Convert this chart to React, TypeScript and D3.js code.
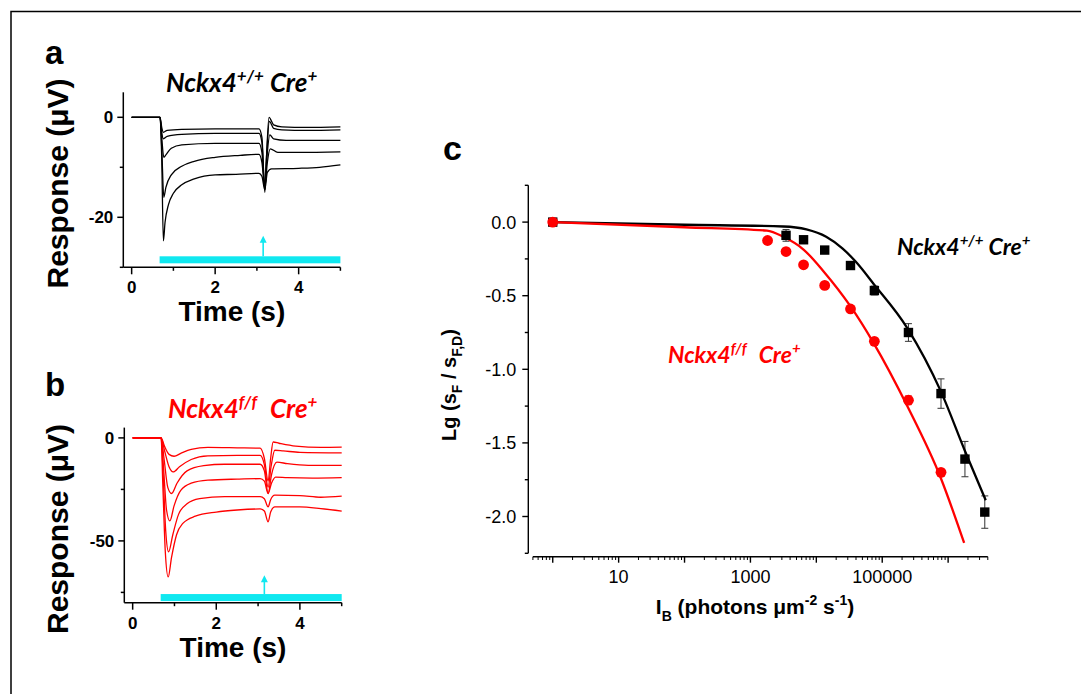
import React from "react";
import * as d3 from "d3";

// ---------- Panel a / b data (time s, response µV) ----------
const timeTicks = [0, 2, 4];
const timeMinor = [1, 3, 5];
const yTicksA = [0, -20];
const yMinorA = [-10, -30];
const yTicksB = [0, -50];
const yMinorB = [-25, -75];

const stimStart = 0.67;
const stimEnd = 5;
const flashTime = 3.15;
const barLevelA = -28.5;
const arrowTopA = -23.7;
const barLevelB = -77.5;
const arrowTopB = -66.7;

const traceA1: [number, number][] = [[0,0],[0.68,0],[0.72,-2],[0.76,-3],[0.85,-2.6],[1.2,-2.4],[2,-2.3],[3.05,-2.3],[3.12,-4],[3.19,-15],[3.23,-8],[3.29,0],[3.4,-1.5],[3.6,-1.9],[4.2,-2],[5,-1.9]];
const traceA2: [number, number][] = [[0,0],[0.68,0],[0.72,-3],[0.76,-4.3],[0.85,-3.8],[1.2,-3.4],[2,-3.2],[3.05,-3.2],[3.12,-5],[3.19,-14.5],[3.23,-8],[3.3,-0.8],[3.4,-2.2],[3.6,-2.5],[4.2,-2.6],[5,-2.5]];
const traceA3: [number, number][] = [[0,0],[0.68,0],[0.72,-4],[0.77,-8],[0.82,-7.5],[0.95,-6.2],[1.2,-5.5],[2,-5.2],[3.05,-5.2],[3.12,-7],[3.19,-14],[3.24,-8],[3.31,-3.5],[3.4,-4.3],[3.7,-4.6],[5,-4.6]];
const traceA4: [number, number][] = [[0,0],[0.68,0],[0.72,-6],[0.77,-16],[0.82,-14],[0.95,-11.5],[1.2,-9.8],[1.5,-8.8],[2,-8],[2.6,-7.6],[3.05,-7.4],[3.12,-9],[3.19,-14],[3.25,-9],[3.32,-6.3],[3.5,-7],[4,-7],[5,-6.9]];
const traceA5: [number, number][] = [[0,0],[0.68,0],[0.72,-8],[0.76,-24.7],[0.8,-21],[0.88,-17.5],[1.0,-15.2],[1.2,-13.5],[1.5,-12.3],[2,-11.5],[2.5,-11.4],[3.05,-11.2],[3.12,-11.8],[3.19,-14.5],[3.25,-11],[3.35,-10.3],[4,-10.2],[4.5,-10],[5,-9.5]];
const tracesA = [traceA1, traceA2, traceA3, traceA4, traceA5];

const traceB1: [number, number][] = [[0,0],[0.68,0],[0.76,-4],[0.87,-8],[0.99,-8.9],[1.15,-7.5],[1.4,-5.6],[1.8,-4.6],[2.5,-4.8],[3.05,-5],[3.15,-10],[3.24,-21],[3.3,-10],[3.36,-2],[3.5,-2.6],[3.9,-4],[4.5,-4.6],[5,-4.5]];
const traceB2: [number, number][] = [[0,0],[0.68,0],[0.76,-6],[0.87,-14],[0.97,-16.5],[1.12,-14],[1.4,-10.5],[1.8,-8.7],[2.5,-8.5],[3.05,-8.5],[3.15,-13],[3.24,-24],[3.31,-14],[3.4,-6],[3.6,-6.3],[4,-7],[5,-7.3]];
const traceB3: [number, number][] = [[0,0],[0.68,0],[0.75,-10],[0.84,-24],[0.93,-27],[1.06,-22],[1.3,-16],[1.7,-13.5],[2.2,-12.8],[3.05,-12.8],[3.15,-16],[3.24,-27],[3.32,-18],[3.45,-11.8],[3.7,-12.5],[4.2,-13.3],[5,-13.3]];
const traceB4: [number, number][] = [[0,0],[0.68,0],[0.74,-15],[0.81,-35],[0.89,-40.3],[0.99,-33],[1.15,-25.5],[1.4,-22],[1.8,-20.5],[2.5,-20],[3.05,-19.8],[3.15,-21],[3.24,-27],[3.32,-22],[3.42,-19],[3.7,-19.3],[4.3,-19.5],[5,-19.3]];
const traceB5: [number, number][] = [[0,0],[0.68,0],[0.73,-18],[0.79,-45],[0.86,-55.3],[0.96,-47],[1.1,-37],[1.3,-32],[1.6,-29.5],[2.2,-28.5],[3.05,-28.5],[3.15,-29.5],[3.24,-33.5],[3.3,-30],[3.4,-27.8],[4,-28],[4.5,-28.8],[5,-28.3]];
const traceB6: [number, number][] = [[0,0],[0.68,0],[0.72,-22],[0.78,-55],[0.85,-67.5],[0.93,-58],[1.05,-47],[1.2,-41.5],[1.5,-38],[2,-36],[2.5,-35],[3.05,-34.5],[3.15,-35.5],[3.24,-40.8],[3.3,-36],[3.4,-33.5],[4,-33.5],[4.5,-34.3],[5,-35.5]];
const tracesB = [traceB1, traceB2, traceB3, traceB4, traceB5, traceB6];

// ---------- Panel c data ----------
const intensityWT = [1, 3470, 6400, 13400, 33000, 76000, 250000, 780000, 1800000, 3600000];
const lgWT = [0, -0.09, -0.12, -0.19, -0.295, -0.465, -0.75, -1.165, -1.61, -1.97];
const errWT = [0, 0.04, 0.02, 0.02, 0.02, 0.03, 0.06, 0.1, 0.12, 0.11];
const intensityKO = [1, 1820, 3470, 6400, 13400, 33000, 76000, 250000, 780000];
const lgKO = [0, -0.125, -0.2, -0.29, -0.43, -0.59, -0.81, -1.21, -1.7];
const errKO = [0, 0.01, 0.01, 0.01, 0.01, 0.01, 0.01, 0.03, 0.01];
const fitWT_I = [1, 100, 3160, 7080, 14100, 25100, 39800, 74100, 240000, 776000, 1820000, 3720000];
const fitWT_lg = [0, -0.018, -0.03, -0.05, -0.1, -0.18, -0.27, -0.42, -0.72, -1.15, -1.56, -1.89];
const fitKO_I = [1, 100, 1780, 3160, 6460, 12900, 33100, 74100, 240000, 776000, 1750000];
const fitKO_lg = [0, -0.035, -0.058, -0.1, -0.188, -0.335, -0.573, -0.822, -1.25, -1.74, -2.18];
const xLabelsC = [10, 1000, 100000];
const xMajorC = [1, 10, 100, 1000, 10000, 100000, 1000000];
const yTicksC = [0, -0.5, -1, -1.5, -2];
const yMinorC = [0.25, -0.25, -0.75, -1.25, -1.75, -2.25];

const SANS = "'Liberation Sans', Arial, sans-serif";
const GENO = "Lato, 'Liberation Sans', sans-serif";
const CYAN = "#10e8f0";

type Pt = [number, number];

function TracePanel(props: {
  x0: number; x1: number; y0: number; y1: number; yDomain: [number, number];
  traces: Pt[][]; color: string; yTicks: number[]; yMinor: number[];
  barLevel: number; arrowTop: number; yLabelCenter: number;
}) {
  const { x0, x1, y0, y1, yDomain, traces, color, yTicks, yMinor, barLevel, arrowTop, yLabelCenter } = props;
  const x = d3.scaleLinear().domain([-0.2, 5]).range([x0, x1]);
  const y = d3.scaleLinear().domain(yDomain).range([y0, y1]);
  const line = d3.line<Pt>().x(d => x(d[0])).y(d => y(d[1])).curve(d3.curveMonotoneX);
  const fx = x(flashTime);
  const barY = y(barLevel);
  const topY = y(arrowTop);
  return (
    <g>
      {traces.map((t, i) => (
        <path key={i} d={line(t) || ""} fill="none" stroke={color} strokeWidth={1.3} strokeLinejoin="round" />
      ))}
      <rect x={x(stimStart)} y={barY - 3.5} width={x(stimEnd) - x(stimStart)} height={7} fill={CYAN} />
      <line x1={fx} x2={fx} y1={barY - 3.5} y2={topY + 6} stroke={CYAN} strokeWidth={1.6} />
      <path d={`M${fx},${topY} L${fx - 3.5},${topY + 7} L${fx + 3.5},${topY + 7} Z`} fill={CYAN} />
      <line x1={x0} x2={x0} y1={y1} y2={y0} stroke="#000" strokeWidth={1.5} />
      <line x1={x0} x2={x1} y1={y0} y2={y0} stroke="#000" strokeWidth={1.5} />
      {yTicks.map(v => (
        <g key={v}>
          <line x1={x0 - 6} x2={x0} y1={y(v)} y2={y(v)} stroke="#000" strokeWidth={1.5} />
          <text x={x0 - 10} y={y(v) + 6} textAnchor="end" fontFamily={SANS} fontWeight="bold" fontSize={17}>{v}</text>
        </g>
      ))}
      {yMinor.map(v => (
        <line key={v} x1={x0 - 3.5} x2={x0} y1={y(v)} y2={y(v)} stroke="#000" strokeWidth={1.5} />
      ))}
      {timeTicks.map(v => (
        <g key={v}>
          <line x1={x(v)} x2={x(v)} y1={y0} y2={y0 + 7} stroke="#000" strokeWidth={1.5} />
          <text x={x(v)} y={y0 + 26} textAnchor="middle" fontFamily={SANS} fontWeight="bold" fontSize={17}>{v}</text>
        </g>
      ))}
      {timeMinor.map(v => (
        <line key={v} x1={x(v)} x2={x(v)} y1={y0} y2={y0 + 3.5} stroke="#000" strokeWidth={1.5} />
      ))}
      <text x={(x0 + x1) / 2} y={y0 + 54} textAnchor="middle" fontFamily={SANS} fontWeight="bold" fontSize={28}>Time (s)</text>
      <text transform={`translate(68,${yLabelCenter}) rotate(-90)`} textAnchor="middle" fontFamily={SANS} fontWeight="bold" fontSize={30}>Response (μV)</text>
    </g>
  );
}

function PanelC() {
  const x = d3.scaleLog().domain([0.5, 4e6]).range([532.9, 987.8]);
  const y = d3.scaleLinear().domain([-2.25, 0.25]).range([553.3, 185.3]);
  const yAxisX = 528.3;
  const xAxisY = 556.7;
  const line = d3.line<Pt>().x(d => d[0]).y(d => d[1]).curve(d3.curveMonotoneX);
  const fitWT: Pt[] = fitWT_I.map((v, i) => [x(v), y(fitWT_lg[i])]);
  const fitKO: Pt[] = fitKO_I.map((v, i) => [x(v), y(fitKO_lg[i])]);
  const [d0, d1] = x.domain();
  const minor: number[] = [];
  for (let e = -1; e <= 6; e++) {
    for (let k = 2; k <= 9; k++) {
      const v = k * Math.pow(10, e);
      if (v >= d0 - 1e-9 && v <= d1 + 1e-9) minor.push(v);
    }
  }
  const eb = (xv: number, yv: number, ev: number, key: string, col: string) => (
    <g key={key} stroke={col} strokeWidth={1}>
      <line x1={x(xv)} x2={x(xv)} y1={y(yv + ev)} y2={y(yv - ev)} />
      <line x1={x(xv) - 3.5} x2={x(xv) + 3.5} y1={y(yv + ev)} y2={y(yv + ev)} />
      <line x1={x(xv) - 3.5} x2={x(xv) + 3.5} y1={y(yv - ev)} y2={y(yv - ev)} />
    </g>
  );
  return (
    <g>
      {intensityWT.map((v, i) => errWT[i] > 0 ? eb(v, lgWT[i], errWT[i], "ew" + i, "#333") : null)}
      {intensityKO.map((v, i) => errKO[i] > 0.02 ? eb(v, lgKO[i], errKO[i], "ek" + i, "#e04040") : null)}
      <path d={line(fitWT) || ""} fill="none" stroke="#000" strokeWidth={2.3} />
      <path d={line(fitKO) || ""} fill="none" stroke="#ff0000" strokeWidth={2.3} />
      {intensityWT.map((v, i) => (
        <rect key={"sw" + i} x={x(v) - 4.7} y={y(lgWT[i]) - 4.7} width={9.4} height={9.4} fill="#000" />
      ))}
      {intensityKO.map((v, i) => (
        <circle key={"ck" + i} cx={x(v)} cy={y(lgKO[i])} r={5.4} fill="#ff0000" />
      ))}
      <line x1={yAxisX} x2={yAxisX} y1={y(0.25)} y2={y(-2.25)} stroke="#000" strokeWidth={1.4} />
      <line x1={x(d0)} x2={x(d1)} y1={xAxisY} y2={xAxisY} stroke="#000" strokeWidth={1.4} />
      {yTicksC.map(v => (
        <g key={v}>
          <line x1={yAxisX - 6} x2={yAxisX} y1={y(v)} y2={y(v)} stroke="#000" strokeWidth={1.4} />
          <text x={yAxisX - 12} y={y(v) + 6.5} textAnchor="end" fontFamily={SANS} fontSize={18}>{d3.format(".1f")(v).replace("−", "-")}</text>
        </g>
      ))}
      {yMinorC.map(v => (
        <line key={v} x1={yAxisX - 3.5} x2={yAxisX} y1={y(v)} y2={y(v)} stroke="#000" strokeWidth={1.4} />
      ))}
      {xMajorC.map(v => (
        <line key={v} x1={x(v)} x2={x(v)} y1={xAxisY} y2={xAxisY + 6} stroke="#000" strokeWidth={1.4} />
      ))}
      {minor.map(v => (
        <line key={v} x1={x(v)} x2={x(v)} y1={xAxisY} y2={xAxisY + 3.3} stroke="#000" strokeWidth={1} />
      ))}
      {xLabelsC.map(v => (
        <text key={v} x={x(v)} y={xAxisY + 26} textAnchor="middle" fontFamily={SANS} fontSize={18}>{v}</text>
      ))}
      <text x={755} y={614} textAnchor="middle" fontFamily={SANS} fontWeight="bold" fontSize={21}>
        I<tspan dy={7} fontSize={14}>B</tspan><tspan dy={-7}> (photons μm</tspan><tspan dy={-9} fontSize={14}>-2</tspan><tspan dy={9}> s</tspan><tspan dy={-9} fontSize={14}>-1</tspan><tspan dy={9}>)</tspan>
      </text>
      <text transform="translate(456,385) rotate(-90)" textAnchor="middle" fontFamily={SANS} fontWeight="bold" fontSize={20}>
        Lg (s<tspan dy={6} fontSize={14}>F</tspan><tspan dy={-6}> / s</tspan><tspan dy={6} fontSize={14}>F,D</tspan><tspan dy={-6}>)</tspan>
      </text>
      <text x={897} y={255} fontFamily={GENO} fontWeight="bold" fontStyle="italic" fontSize={23} fill="#000">
        Nckx4<tspan dy={-9} fontSize={15}>+/+</tspan><tspan dy={9} dx={5}>Cre</tspan><tspan dy={-9} fontSize={15}>+</tspan>
      </text>
      <text x={668} y={363} fontFamily={GENO} fontWeight="bold" fontStyle="italic" fontSize={23} fill="#ff0000">
        Nckx4<tspan dy={-9} fontSize={15}>f/f</tspan><tspan dy={9} dx={12}>Cre</tspan><tspan dy={-9} fontSize={15}>+</tspan>
      </text>
    </g>
  );
}

export default function App() {
  return (
    <svg width={1081} height={694} viewBox="0 0 1081 694"
      style={{ position: "absolute", left: 0, top: 0, background: "#fff" }}>
      <rect x={0} y={0} width={1081} height={694} fill="#fff" />
      <path d="M11,694 V11.5 H1081" fill="none" stroke="#000" strokeWidth={1.5} />
      <text x={45} y={64} fontFamily={SANS} fontWeight="bold" fontSize={33}>a</text>
      <text x={45} y={396} fontFamily={SANS} fontWeight="bold" fontSize={33}>b</text>
      <text x={443} y={160} fontFamily={SANS} fontWeight="bold" fontSize={34}>c</text>
      <text x={166} y={92} fontFamily={GENO} fontWeight="bold" fontStyle="italic" fontSize={26} fill="#000">
        Nckx4<tspan dy={-10} fontSize={17}>+/+</tspan><tspan dy={10} dx={6}>Cre</tspan><tspan dy={-10} fontSize={17}>+</tspan>
      </text>
      <text x={168} y={418} fontFamily={GENO} fontWeight="bold" fontStyle="italic" fontSize={26} fill="#ff0000">
        Nckx4<tspan dy={-10} fontSize={17}>f/f</tspan><tspan dy={10} dx={13}>Cre</tspan><tspan dy={-10} fontSize={17}>+</tspan>
      </text>
      <TracePanel x0={123.3} x1={340.4} y0={267.3} y1={92.3} yDomain={[-30, 5]} traces={tracesA}
        color="#000" yTicks={yTicksA} yMinor={yMinorA} barLevel={barLevelA} arrowTop={arrowTopA} yLabelCenter={183.5} />
      <TracePanel x0={124.3} x1={341.7} y0={602.7} y1={427.6} yDomain={[-80, 5]} traces={tracesB}
        color="#ff0000" yTicks={yTicksB} yMinor={yMinorB} barLevel={barLevelB} arrowTop={arrowTopB} yLabelCenter={529} />
      <PanelC />
    </svg>
  );
}
